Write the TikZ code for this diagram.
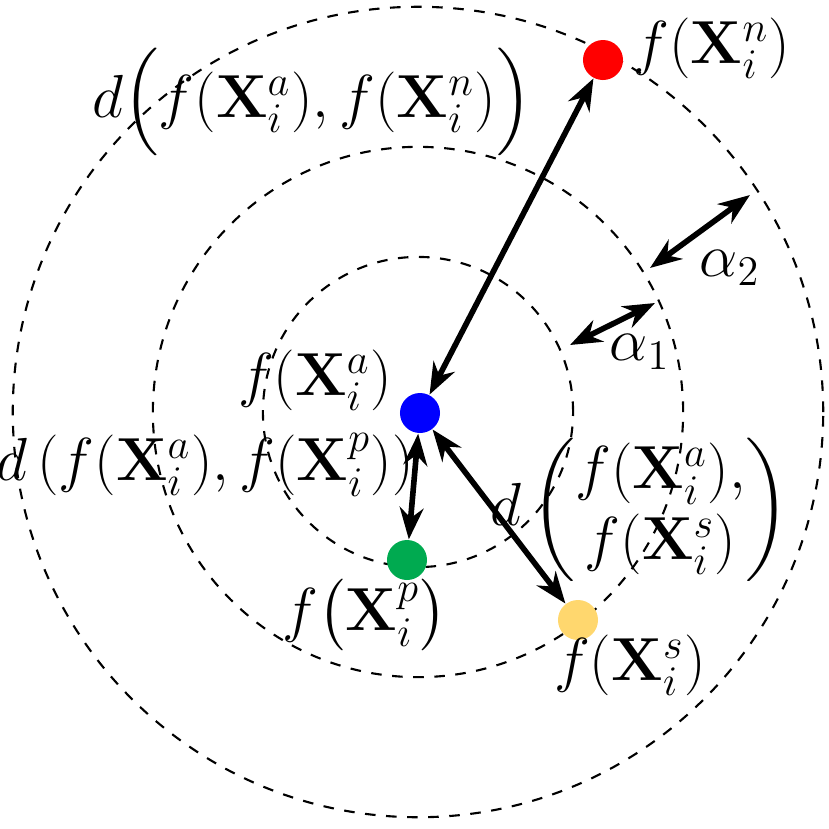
\documentclass[tikz,border=0pt]{standalone}
\usepackage{amsmath}
\usepackage{amsfonts}
\usepackage{tikz}
\usetikzlibrary{arrows.meta}

\begin{document}
\begin{tikzpicture}[x=0.01cm,y=-0.01cm,
    ring/.style={dashed,semithick},
    pt/.style={circle,inner sep=0pt,minimum size=0.4cm},
    dist/.style={{Stealth[length=9pt]}-{Stealth[length=9pt]},line width=1.6pt},
    lab/.style={font=\fontsize{17}{20}\selectfont}]
  \useasboundingbox (0,0) rectangle (829,829);
  \coordinate (O) at (418,412);
  \draw[ring] (O) circle[radius=1.55cm];
  \draw[ring] (O) circle[radius=2.65cm];
  \draw[ring] (O) circle[radius=4.05cm];
  % points
  \node[pt,fill=red] (N) at (603,60) {};
  \node[pt,fill=blue] (A) at (420,413) {};
  \node[pt,fill={rgb,255:red,0;green,170;blue,80}] (P) at (407,560) {};
  \node[pt,fill={rgb,255:red,255;green,215;blue,110}] (S) at (578,620) {};
  \coordinate (a2s) at (650,268);
  \coordinate (a2e) at (750,195);
  \coordinate (a1s) at (570,345);
  \coordinate (a1e) at (655,303);
  % distances
  \draw[dist] (A) -- (N);
  \draw[dist] (A) -- (P);
  \draw[dist] (A) -- (S);
  \draw[dist] (a2s) -- (a2e);
  \draw[dist] (a1s) -- (a1e);
  % labels
  \node[lab] (ln) at (712,48) {$f(\mathbf{X}_i^n)$};
  \node[lab] (lan) at (312,102) {$d\Big(f(\mathbf{X}_i^a),f(\mathbf{X}_i^n)\Big)$};
  \node[lab] (la) at (315,380) {$f(\mathbf{X}_i^a)$};
  \node[lab] (lap) at (205,465) {$d\left(f(\mathbf{X}_i^a),f(\mathbf{X}_i^p)\right)$};
  \node[lab] (lp) at (365,615) {$f\big(\mathbf{X}_i^p\big)$};
  \node[lab] (las) at (640,510) {$d\begin{pmatrix}f(\mathbf{X}_i^a),\\ f(\mathbf{X}_i^s)\end{pmatrix}$};
  \node[lab] (ls) at (630,665) {$f(\mathbf{X}_i^s)$};
  \node[lab] (l2) at (730,268) {$\alpha_2$};
  \node[lab] (l1) at (640,352) {$\alpha_1$};
\end{tikzpicture}
\end{document}
